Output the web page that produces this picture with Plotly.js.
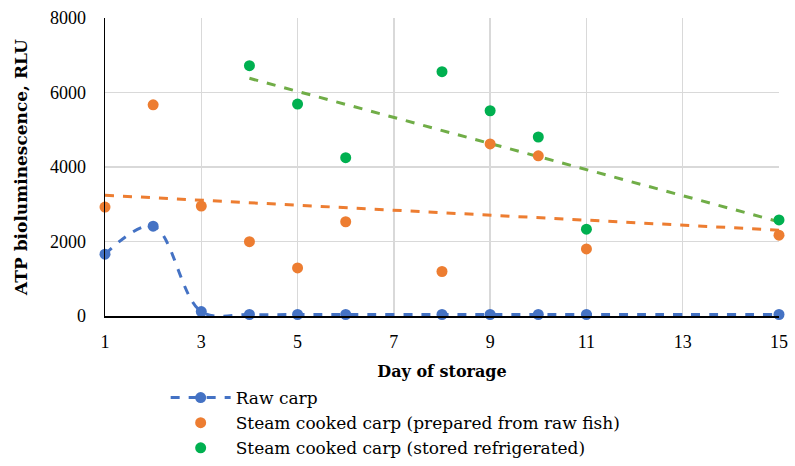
<!DOCTYPE html>
<html><head><meta charset="utf-8">
<script src="https://cdn.plot.ly/plotly-3.0.1.min.js"></script>
<style>body{margin:0;padding:0;background:#fff}#chart{width:795px;height:466px}</style>
</head><body><div id="chart"></div>
<script>
const rawDays = [1,2,3,4,5,6,8,9,10,11,15];
const rawRLU  = [1660,2410,120,40,40,40,40,40,40,40,40];
const cookedDays = [1,2,3,4,5,6,8,9,10,11,15];
const cookedRLU  = [2925,5670,2950,1995,1290,2530,1195,4620,4300,1800,2170];
const refrDays = [4,5,6,8,9,10,11,15];
const refrRLU  = [6720,5690,4250,6560,5510,4805,2330,2580];
const xTicks = [1,3,5,7,9,11,13,15];
const yTicks = [0,2000,4000,6000,8000];

function linfit(xs, ys){
  const n = xs.length;
  const mx = xs.reduce((a,b)=>a+b,0)/n, my = ys.reduce((a,b)=>a+b,0)/n;
  let sxy=0, sxx=0;
  for(let i=0;i<n;i++){sxy+=(xs[i]-mx)*(ys[i]-my);sxx+=(xs[i]-mx)*(xs[i]-mx);}
  const b = sxy/sxx, a = my-b*mx;
  const x0 = xs[0], x1 = xs[n-1];
  return {x:[x0,x1], y:[a+b*x0, a+b*x1]};
}
const tc = linfit(cookedDays, cookedRLU);
const tr = linfit(refrDays, refrRLU);

const BLUE='#4472C4', ORANGE='#ED7D31', GREEN='#00B050', LGREEN='#70AD47';
const TICKFONT = 'Liberation Serif, serif';
const TEXTFONT = 'DejaVu Serif, serif';

const traces = [
  {x: tc.x, y: tc.y, mode:'lines', line:{color:ORANGE, width:3, dash:'dash'}, showlegend:false, hoverinfo:'skip'},
  {x: tr.x, y: tr.y, mode:'lines', line:{color:LGREEN, width:3, dash:'dash'}, showlegend:false, hoverinfo:'skip'},
  {x: rawDays, y: rawRLU, name:'Raw carp', mode:'lines+markers',
   line:{color:BLUE, width:3, dash:'dash', shape:'spline', smoothing:1},
   marker:{color:BLUE, size:11}, cliponaxis:false},
  {x: cookedDays, y: cookedRLU, name:'Steam cooked carp (prepared from raw fish)', mode:'markers',
   marker:{color:ORANGE, size:11}, cliponaxis:false},
  {x: refrDays, y: refrRLU, name:'Steam cooked carp (stored refrigerated)', mode:'markers',
   marker:{color:GREEN, size:11}, cliponaxis:false}
];

const layout = {
  width:795, height:466,
  margin:{l:105, r:16, t:18, b:150, autoexpand:false},
  paper_bgcolor:'#fff', plot_bgcolor:'#fff',
  font:{family:TICKFONT, size:18, color:'#000'},
  xaxis:{range:[1,15], tickvals:xTicks, ticktext:xTicks.map(String),
    tickfont:{family:TICKFONT, size:18},
    showgrid:true, gridcolor:'#d9d9d9', gridwidth:1.5, zeroline:false,
    showline:true, linecolor:'#000', linewidth:1.5, ticks:'', ticklabelstandoff:9,
    automargin:false,
    title:{text:'<b>Day of storage</b>', font:{family:TEXTFONT, size:16}, standoff:14}},
  yaxis:{range:[0,8000], tickvals:yTicks, ticktext:yTicks.map(String),
    tickfont:{family:TICKFONT, size:18},
    showgrid:true, gridcolor:'#d9d9d9', gridwidth:1.5, zeroline:false,
    showline:true, linecolor:'#000', linewidth:1.5, ticks:'', ticklabelstandoff:14,
    automargin:false,
    title:{text:'<b>ATP bioluminescence, RLU</b>', font:{family:TEXTFONT, size:17}, standoff:18}},
  legend:{orientation:'v', x:0.09, xanchor:'left', y:-0.215, yanchor:'top',
    font:{family:TEXTFONT, size:17}, itemwidth:60, tracegroupgap:0, bgcolor:'rgba(0,0,0,0)'},
  showlegend:true
};
Plotly.newPlot('chart', traces, layout, {displayModeBar:false, staticPlot:true});
</script></body></html>
